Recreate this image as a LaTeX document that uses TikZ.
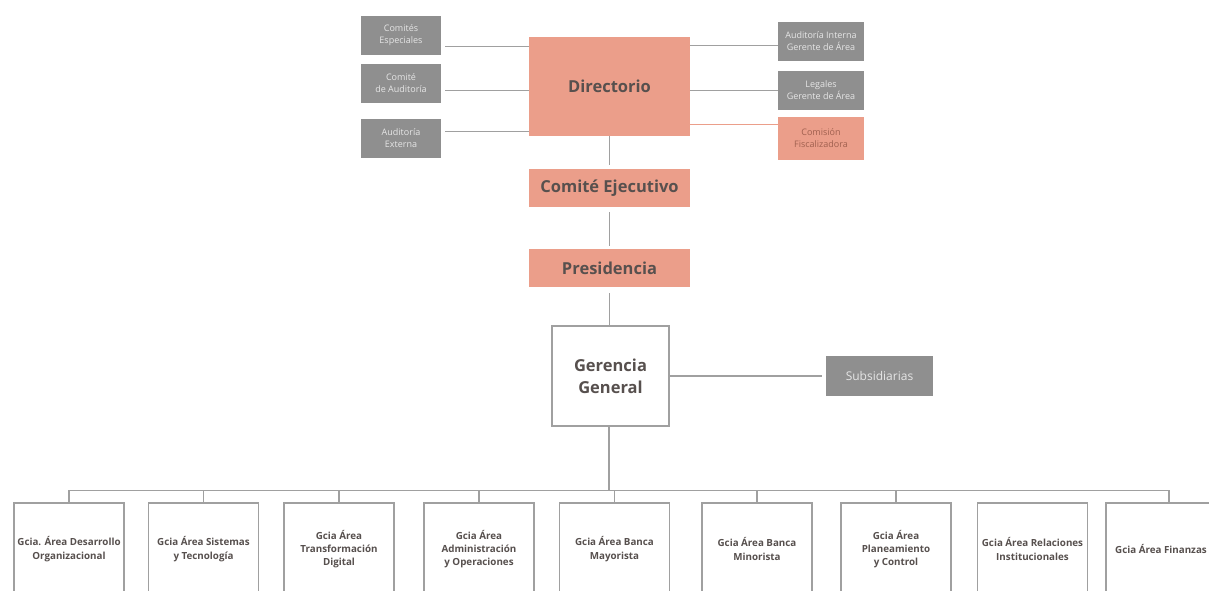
\documentclass[tikz,border=0pt]{standalone}
\usepackage{fontspec}
\setmainfont{Open Sans}
\usepackage{xcolor}
\usepackage{tikz}
\usetikzlibrary{positioning, calc}
\definecolor{salmon}{HTML}{EB9E8A}
\definecolor{boxgrey}{HTML}{8F8F8F}
\definecolor{linegrey}{HTML}{A0A0A0}
\definecolor{inkgrey}{HTML}{57504E}
\definecolor{paletext}{HTML}{E6E6E6}
\definecolor{rusttext}{HTML}{A0604F}

\begin{document}
\begin{tikzpicture}[x=1pt, y=-1pt,
    board/.style={fill=salmon, text=inkgrey, font=\bfseries\fontsize{16.5}{19}\selectfont,
                  inner sep=0pt, minimum width=161pt, minimum height=38pt},
    sidebox/.style={fill=boxgrey, text=paletext, font=\fontsize{9}{12}\selectfont,
                    align=center, inner sep=0pt, minimum width=80pt, minimum height=39pt},
    areabox/.style={draw=linegrey, line width=1.2pt, fill=white, text=inkgrey,
                    font=\bfseries\fontsize{9.8}{13.3}\selectfont, align=center,
                    inner sep=0pt, minimum width=110pt, minimum height=92pt},
    link/.style={draw=linegrey, line width=1.3pt}]
  \clip (0,0) rectangle (1209,590);

  % board and committees
  \node[board, minimum height=99pt] (dir) at (609.5,86.5) {Directorio};
  \node[board] (ejec) at (609.5,188) {Comité Ejecutivo};
  \node[board] (pres) at (609.5,268) {Presidencia};
  \node[draw=linegrey, line width=1.2pt, text=inkgrey, font=\bfseries\fontsize{16.5}{22}\selectfont,
        align=center, minimum width=117pt, minimum height=100pt] (gg) at (610.5,376) {Gerencia\\General};

  \node[sidebox] (esp) at (401,35.5) {Comités\\Especiales};
  \node[sidebox] (aud) at (401,83.5) {Comité\\de Auditoría};
  \node[sidebox] (ext) at (401,138.5) {Auditoría\\Externa};

  \node[sidebox, minimum width=86pt] (audint) at (821,41.5) {Auditoría Interna\\Gerente de Área};
  \node[sidebox, minimum width=86pt] (legal) at (821,90.5) {Legales\\Gerente de Área};
  \node[sidebox, minimum width=86pt, minimum height=43pt, fill=salmon, text=rusttext]
        (comfis) at (821,138.5) {Comisión\\Fiscalizadora};
  \node[sidebox, minimum width=107pt, minimum height=40pt, font=\fontsize{12}{14}\selectfont]
        (subs) at (879.5,376) {Subsidiarias};

  % attachment points on Directorio
  \path (dir.north west) ++(0,10) coordinate (l1) ++(0,44) coordinate (l2) ++(0,41) coordinate (l3);
  \path (dir.north east) ++(0,9) coordinate (r1) ++(0,45) coordinate (r2) ++(0,34) coordinate (r3);

  \draw[link, shorten <=4pt] (l1 -| esp.east) -- (l1);
  \draw[link, shorten <=4pt] (l2 -| aud.east) -- (l2);
  \draw[link, shorten <=4pt] (l3 -| ext.east) -- (l3);
  \draw[link] (r1) -- (r1 -| audint.west);
  \draw[link] (r2) -- (r2 -| legal.west);
  \draw[link, draw=salmon] (r3) -- (r3 -| comfis.west);

  \draw[link, shorten >=4pt] (dir) -- (ejec);
  \draw[link, shorten <=5pt, shorten >=3pt] (ejec) -- (pres);
  \draw[link, shorten <=6pt] (pres.south) -- (pres.south |- gg.north);
  \draw[link, shorten >=4pt] (gg) -- (subs);

  % area managements
  \foreach \x/\txt [count=\i] in {
      69/{Gcia. Área Desarrollo\\Organizacional},
      203.5/{Gcia Área Sistemas\\y Tecnología},
      339/{Gcia Área\\Transformación\\Digital},
      479/{Gcia Área\\Administración\\y Operaciones},
      614.5/{Gcia Área Banca\\Mayorista},
      757/{Gcia Área Banca\\Minorista},
      896/{Gcia Área\\Planeamiento\\y Control},
      1032.5/{Gcia Área Relaciones\\Institucionales},
      1161/{Gcia Área Finanzas}}
    \node[areabox] (a\i) at (\x,549) {\txt};

  \path (a1.north) ++(0,-12) coordinate (bus);
  \coordinate (drop9) at ([xshift=8pt]a9.north);
  \draw[link] (gg.south -| 609,0) -- (bus -| 609,0);
  \draw[link] (bus) -- (bus -| drop9);
  \draw[link] (drop9) -- (drop9 |- bus);
  \foreach \i in {1,...,7}
    \draw[link] (a\i.north) -- (a\i.north |- bus);
\end{tikzpicture}
\end{document}
